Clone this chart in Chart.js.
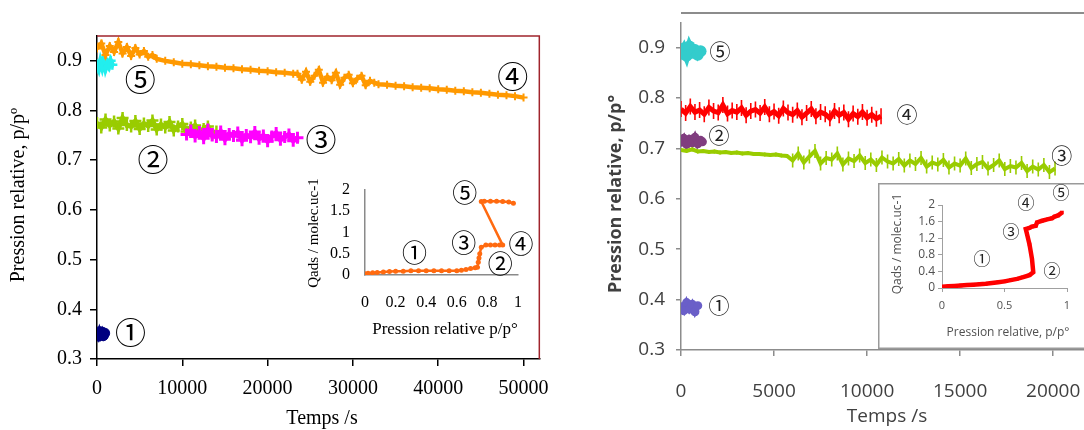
<!DOCTYPE html>
<html>
<head>
<meta charset="utf-8">
<script src="https://cdn.jsdelivr.net/npm/chart.js@4.4.0/dist/chart.umd.min.js"></script>
<style>
  html, body { margin: 0; padding: 0; background: #fff; overflow: hidden; }
  #wrap { position: relative; width: 1084px; height: 430px; overflow: hidden; background: #fff; }
  #wrap canvas { position: absolute; }
  .soft { filter: blur(0.45px); }
</style>
</head>
<body>
<div id="wrap">
  <canvas id="leftMain" width="560" height="430" style="left:0;top:0"></canvas>
  <canvas id="leftInset" width="250" height="180" style="left:290px;top:165px"></canvas>
  <canvas id="rightMain" class="soft" width="560" height="430" style="left:560px;top:0"></canvas>
  <canvas id="rightInset" class="soft" width="230" height="166" style="left:878px;top:183px"></canvas>
</div>
<script>
// ---------- left figure: relative pressure vs time ----------
const tLeft1 = [0, 150, 300, 450, 600, 750, 900];
const pLeft1 = [0.351, 0.346, 0.355, 0.348, 0.354, 0.347, 0.352];

const tLeft5 = [0, 200, 400, 600, 800, 1000, 1200, 1400, 1600, 1800];
const pLeft5 = [0.893, 0.884, 0.899, 0.887, 0.902, 0.885, 0.896, 0.889, 0.900, 0.892];

const tLeft4 = [0, 500, 1000, 1500, 2000, 2500, 3000, 3500, 4000, 4500, 5000, 5500, 6000, 6500, 7000,
  8000, 9000, 10000, 11000, 12000, 13000, 14000, 15000, 16000, 17000, 18000, 19000, 20000, 21000, 22000, 23000,
  23500, 24000, 24500, 25000, 25500, 26000, 26500, 27000, 27500, 28000, 28500, 29000, 29500, 30000, 30500, 31000, 31500, 32000, 32500,
  33000, 34000, 35000, 36000, 37000, 38000, 39000, 40000, 41000, 42000, 43000, 44000, 45000, 46000, 47000, 48000, 49000, 50000];
const pLeft4 = [0.925, 0.935, 0.912, 0.930, 0.918, 0.938, 0.915, 0.928, 0.910, 0.926, 0.913, 0.920, 0.908, 0.912, 0.904,
  0.900, 0.897, 0.894, 0.893, 0.891, 0.889, 0.888, 0.886, 0.885, 0.883, 0.882, 0.880, 0.879, 0.877, 0.876, 0.874,
  0.874, 0.862, 0.878, 0.858, 0.870, 0.882, 0.856, 0.868, 0.861, 0.876, 0.852, 0.866, 0.872, 0.855, 0.864, 0.870, 0.851, 0.860, 0.856,
  0.853, 0.852, 0.850, 0.849, 0.847, 0.846, 0.845, 0.843, 0.842, 0.840, 0.839, 0.837, 0.836, 0.834, 0.832, 0.831, 0.829, 0.826];

const tLeft2 = [0, 500, 1000, 1500, 2000, 2500, 3000, 3500, 4000, 4500, 5000, 5500, 6000, 6500, 7000,
  7500, 8000, 8500, 9000, 9500, 10000, 10500, 11000, 11500, 12000, 12500, 13000, 13500, 14000];
const pLeft2 = [0.775, 0.766, 0.782, 0.770, 0.778, 0.764, 0.785, 0.771, 0.768, 0.779,
  0.763, 0.774, 0.769, 0.780, 0.762, 0.772, 0.766, 0.777, 0.760, 0.768,
  0.773, 0.758, 0.766, 0.770, 0.756, 0.763, 0.768, 0.752, 0.758];

const tLeft3 = [10500, 11000, 11500, 12000, 12500, 13000, 13500, 14000, 14500, 15000, 15500, 16000, 16500, 17000,
  17500, 18000, 18500, 19000, 19500, 20000, 20500, 21000, 21500, 22000, 22500, 23000, 23500];
const pLeft3 = [0.752, 0.760, 0.748, 0.757, 0.744, 0.762, 0.750, 0.747, 0.758, 0.742,
  0.753, 0.749, 0.756, 0.740, 0.751, 0.746, 0.757, 0.743, 0.750, 0.738,
  0.748, 0.755, 0.741, 0.747, 0.752, 0.739, 0.745];

// left inset: adsorbed amount vs relative pressure
const xLeftInset = [0, 0.02, 0.05, 0.08, 0.12, 0.16, 0.2, 0.25, 0.3, 0.35, 0.4, 0.45, 0.5, 0.55, 0.6, 0.63, 0.66, 0.69,
  0.72, 0.735, 0.74, 0.745, 0.75, 0.76, 0.79, 0.82, 0.85, 0.88, 0.9, 0.76, 0.78, 0.82, 0.86, 0.9, 0.94, 0.97];
const qLeftInset = [0.03, 0.04, 0.05, 0.06, 0.07, 0.08, 0.09, 0.09, 0.1, 0.1, 0.1, 0.1, 0.1, 0.1, 0.1, 0.11, 0.13, 0.15,
  0.17, 0.18, 0.3, 0.4, 0.5, 0.65, 0.7, 0.7, 0.7, 0.7, 0.7, 1.72, 1.73, 1.73, 1.73, 1.72, 1.71, 1.68];

// ---------- right figure ----------
const tRight5 = [0, 150, 300, 450, 600, 750, 900, 1050];
const pRight5 = [0.888, 0.898, 0.884, 0.902, 0.890, 0.895, 0.886, 0.893];

const tRight2 = [0, 150, 300, 450, 600, 750, 900, 1050, 1150];
const pRight2 = [0.712, 0.720, 0.708, 0.718, 0.711, 0.722, 0.709, 0.716, 0.713];

const tRight1 = [0, 150, 300, 450, 600, 750, 900];
const pRight1 = [0.386, 0.378, 0.394, 0.381, 0.391, 0.376, 0.388];

const tRight4 = [0, 250, 500, 750, 1000, 1250, 1500, 1750, 2000, 2250, 2500, 2750, 3000, 3250, 3500, 3750, 4000, 4250,
  4500, 4750, 5000, 5250, 5500, 5750, 6000, 6250, 6500, 6750, 7000, 7250, 7500, 7750, 8000, 8250, 8500, 8750,
  9000, 9250, 9500, 9750, 10000, 10250, 10500, 10750];
const pRight4 = [0.778, 0.770, 0.783, 0.772, 0.776, 0.768, 0.781, 0.774, 0.771, 0.786,
  0.769, 0.775, 0.772, 0.780, 0.766, 0.774, 0.777, 0.770, 0.782, 0.768,
  0.773, 0.765, 0.779, 0.771, 0.767, 0.775, 0.762, 0.770, 0.778, 0.764,
  0.772, 0.768, 0.760, 0.774, 0.766, 0.771, 0.758, 0.769, 0.763, 0.772,
  0.761, 0.767, 0.759, 0.764];

const tRight3 = [0, 300, 600, 900, 1200, 1500, 1800, 2100, 2400, 2700, 3000, 3300, 3600, 3900, 4200, 4500, 4800, 5100,
  5400, 5700, 6000, 6300, 6600, 6900, 7200, 7500, 7800, 8100, 8400, 8700, 9000, 9300, 9600, 9900, 10200, 10500,
  10800, 11100, 11400, 11700, 12000, 12300, 12600, 12900, 13200, 13500, 13800, 14100, 14400, 14700, 15000, 15300,
  15600, 15900, 16200, 16500, 16800, 17100, 17400, 17700, 18000, 18300, 18600, 18900, 19200, 19500, 19800, 20100];
const pRight3 = [0.697, 0.695, 0.698, 0.694, 0.695, 0.693, 0.694, 0.692, 0.693, 0.691,
  0.692, 0.690, 0.691, 0.689, 0.689, 0.688, 0.687, 0.688, 0.686, 0.685,
  0.676, 0.690, 0.672, 0.684, 0.695, 0.670, 0.681, 0.678, 0.690, 0.668,
  0.680, 0.675, 0.686, 0.671, 0.678, 0.667, 0.682, 0.674, 0.670, 0.679,
  0.666, 0.676, 0.669, 0.681, 0.664, 0.672, 0.668, 0.677, 0.662, 0.670,
  0.666, 0.680, 0.661, 0.669, 0.673, 0.660, 0.667, 0.676, 0.659, 0.665,
  0.662, 0.671, 0.655, 0.664, 0.658, 0.667, 0.653, 0.660];

// right inset: adsorbed amount vs relative pressure
const xRightInset = [0, 0.05, 0.1, 0.15, 0.2, 0.25, 0.3, 0.35, 0.4, 0.45, 0.5, 0.55, 0.6, 0.65, 0.7, 0.73, 0.72, 0.7,
  0.68, 0.67, 0.7, 0.72, 0.75, 0.76, 0.8, 0.85, 0.88, 0.9, 0.93, 0.96];
const qRightInset = [0.03, 0.04, 0.05, 0.06, 0.07, 0.08, 0.09, 0.1, 0.12, 0.14, 0.16, 0.19, 0.22, 0.26, 0.31, 0.38, 0.7, 1.05,
  1.3, 1.42, 1.45, 1.48, 1.5, 1.58, 1.62, 1.66, 1.68, 1.72, 1.75, 1.82];

// tick values
const leftTimeTicks = [0, 10000, 20000, 30000, 40000, 50000];
const rightTimeTicks = [0, 5000, 10000, 15000, 20000];
const pressureTicks = [0.3, 0.4, 0.5, 0.6, 0.7, 0.8, 0.9];
const leftInsetXTicks = [0, 0.2, 0.4, 0.6, 0.8, 1];
const leftInsetYTicks = [0, 0.5, 1, 1.5, 2];
const rightInsetXTicks = [0, 0.5, 1];
const rightInsetYTicks = [0, 0.4, 0.8, 1.2, 1.6, 2];

// step labels (circled numbers) anchored in data coordinates
const leftTags = [['⑤', 5070, 0.8625], ['④', 48730, 0.8685], ['③', 26270, 0.7415], ['②', 6570, 0.703], ['①', 3920, 0.354]];
const leftInsetTags = [['⑤', 0.652, 1.93], ['③', 0.645, 0.76], ['④', 1.02, 0.74], ['②', 0.884, 0.28], ['①', 0.323, 0.52]];
const rightTags = [['⑤', 2095, 0.894], ['④', 12140, 0.768], ['②', 2040, 0.726], ['③', 20460, 0.687], ['①', 2040, 0.389]];
const rightInsetTags = [['④', 0.672, 2.05], ['⑤', 0.952, 2.31], ['③', 0.552, 1.37], ['①', 0.32, 0.70], ['②', 0.88, 0.41]];

// ---------- helpers ----------
const SERIF = '"Liberation Serif", "Times New Roman", serif';
const SANS = '"Open Sans", "Noto Sans", sans-serif';
const CIRC = '"Noto Sans CJK JP", "DejaVu Sans", sans-serif';

function pts(xs, ys) { return xs.map((v, i) => ({ x: v, y: ys[i] })); }

function axis(o) {
  return {
    type: 'linear', min: o.min, max: o.max,
    afterBuildTicks: s => { s.ticks = o.ticks.map(v => ({ value: v })); },
    afterFit: s => { if (o.horizontal) s.height = o.size; else s.width = o.size; },
    grid: { display: true, drawOnChartArea: false, drawTicks: o.tickLen > 0, tickLength: o.tickLen,
            color: o.lineColor, lineWidth: o.lineWidth },
    border: { display: true, color: o.lineColor, width: o.lineWidth },
    ticks: { color: o.color, font: o.font, padding: o.pad, autoSkip: false, maxRotation: 0, minRotation: 0,
             callback: v => o.fmt(v) },
    title: { display: false }
  };
}

function series(xs, ys, color, o) {
  return Object.assign({
    data: pts(xs, ys), showLine: true, borderColor: color, backgroundColor: color,
    pointBorderColor: color, pointBackgroundColor: color, tension: 0
  }, o);
}

// vertical scatter bars around each reading of a noisy record
function noisy(width, bar, calmBefore, calmBar) {
  return {
    borderWidth: width, pointStyle: 'line', pointRotation: 90, pointBorderWidth: 1.6,
    pointRadius: c => (calmBefore && c.raw && c.raw.x < calmBefore ? calmBar : bar)
  };
}

function drawText(ctx, text, x, y, font, color, rot) {
  ctx.save();
  ctx.translate(x, y);
  if (rot) ctx.rotate(rot);
  ctx.font = font; ctx.fillStyle = color;
  ctx.textAlign = 'center'; ctx.textBaseline = 'middle';
  ctx.fillText(text, 0, 0);
  ctx.restore();
}

function drawTags(chart, tags, size, color) {
  const { ctx, scales } = chart;
  tags.forEach(([s, vx, vy]) =>
    drawText(ctx, s, scales.x.getPixelForValue(vx), scales.y.getPixelForValue(vy), size + 'px ' + CIRC, color, 0));
}

const base = { responsive: false, animation: false, devicePixelRatio: 1,
  plugins: { legend: { display: false }, tooltip: { enabled: false } } };

// ---------- left main chart ----------
new Chart(document.getElementById('leftMain'), {
  type: 'scatter',
  data: { datasets: [
    series(tLeft4, pLeft4, '#FF9900', { borderWidth: 4.5, pointStyle: 'cross', pointRadius: 4, pointBorderWidth: 2 }),
    series(tLeft5, pLeft5, '#22EEEE', { borderWidth: 5, pointStyle: 'cross', pointRadius: 5, pointBorderWidth: 2.5 }),
    series(tLeft3, pLeft3, '#FF00FF', { borderWidth: 5, pointStyle: 'cross', pointRadius: 6, pointBorderWidth: 3 }),
    series(tLeft2, pLeft2, '#99CC00', { borderWidth: 5, pointStyle: 'cross', pointRadius: 6, pointBorderWidth: 2.5 }),
    series(tLeft1, pLeft1, '#000080', { borderWidth: 5, pointStyle: 'circle', pointRadius: 5, pointBorderWidth: 1 })
  ] },
  options: Object.assign({}, base, {
    layout: { padding: { left: 0, top: 36, right: 13, bottom: 0 } },
    scales: {
      x: axis({ min: 0, max: 51850, ticks: leftTimeTicks, horizontal: true, size: 71, tickLen: 7,
        lineColor: '#000', lineWidth: 1.5, color: '#000', font: { family: SERIF, size: 20 }, pad: 11, fmt: v => String(v) }),
      y: axis({ min: 0.3, max: 0.95, ticks: pressureTicks, size: 97, tickLen: 7,
        lineColor: '#000', lineWidth: 1.5, color: '#000', font: { family: SERIF, size: 20 }, pad: 8, fmt: v => v.toFixed(1) })
    }
  }),
  plugins: [{
    id: 'leftDeco',
    afterDraw(chart) {
      const { ctx, chartArea: a } = chart;
      ctx.save();
      ctx.strokeStyle = '#A0242C'; ctx.lineWidth = 1.5;
      ctx.beginPath();
      ctx.moveTo(a.left, a.top); ctx.lineTo(a.right, a.top); ctx.lineTo(a.right, a.bottom);
      ctx.stroke();
      ctx.restore();
      drawText(ctx, 'Temps /s', 322, 419, '20px ' + SERIF, '#000', 0);
      drawText(ctx, 'Pression relative, p/pº', 19, 195, '20px ' + SERIF, '#000', -Math.PI / 2);
      drawTags(chart, leftTags, 31, '#000');
    }
  }]
});

// ---------- left inset ----------
new Chart(document.getElementById('leftInset'), {
  type: 'scatter',
  data: { datasets: [
    series(xLeftInset, qLeftInset, '#FF6A10', { borderWidth: 2.5, pointStyle: 'circle', pointRadius: 2.5, pointBorderWidth: 0 })
  ] },
  options: Object.assign({}, base, {
    layout: { padding: { left: 0, top: 17, right: 20, bottom: 0 } },
    scales: {
      x: axis({ min: 0, max: 1, ticks: leftInsetXTicks, horizontal: true, size: 70, tickLen: 0,
        lineColor: '#8a8a8a', lineWidth: 1.5, color: '#000', font: { family: SERIF, size: 16 }, pad: 18, fmt: v => String(v) }),
      y: axis({ min: 0, max: 2, ticks: leftInsetYTicks, size: 75, tickLen: 0,
        lineColor: '#8a8a8a', lineWidth: 1.5, color: '#000', font: { family: SERIF, size: 16 }, pad: 15, fmt: v => String(v) })
    }
  }),
  plugins: [{
    id: 'leftInsetDeco',
    afterDraw(chart) {
      const { ctx } = chart;
      drawText(ctx, 'Pression relative p/p°', 155, 165, '17px ' + SERIF, '#000', 0);
      drawText(ctx, 'Qads / molec.uc-1', 24, 68, '15px ' + SERIF, '#000', -Math.PI / 2);
      drawTags(chart, leftInsetTags, 25, '#000');
    }
  }]
});

// ---------- right main chart ----------
new Chart(document.getElementById('rightMain'), {
  type: 'scatter',
  data: { datasets: [
    series(tRight3, pRight3, '#99CC00', noisy(4, 7, 6000, 2)),
    series(tRight4, pRight4, '#FF0000', noisy(5, 8)),
    series(tRight5, pRight5, '#33CCCC', { borderWidth: 8, pointStyle: 'circle', pointRadius: 6, pointBorderWidth: 0 }),
    series(tRight2, pRight2, '#803D7F', { borderWidth: 6, pointStyle: 'circle', pointRadius: 4.5, pointBorderWidth: 0 }),
    series(tRight1, pRight1, '#6A5FC8', { borderWidth: 5, pointStyle: 'circle', pointRadius: 4.5, pointBorderWidth: 0 })
  ] },
  options: Object.assign({}, base, {
    layout: { padding: { left: 0, top: 14, right: 11, bottom: 0 } },
    scales: {
      x: axis({ min: 0, max: 23000, ticks: rightTimeTicks, horizontal: true, size: 80, tickLen: 6,
        lineColor: '#8c8c8c', lineWidth: 1.5, color: '#404040', font: { family: SANS, size: 19 }, pad: 24, fmt: v => String(v) }),
      y: axis({ min: 0.3, max: 0.95, ticks: pressureTicks, size: 121, tickLen: 5,
        lineColor: '#8c8c8c', lineWidth: 1.5, color: '#404040', font: { family: SANS, size: 19 }, pad: 11, fmt: v => v.toFixed(1) })
    }
  }),
  plugins: [{
    id: 'rightDeco',
    afterDraw(chart) {
      const { ctx, chartArea: a } = chart;
      ctx.save();
      ctx.strokeStyle = '#8c8c8c'; ctx.lineWidth = 2;
      ctx.beginPath(); ctx.moveTo(a.left, 13); ctx.lineTo(chart.width, 13); ctx.stroke();
      ctx.restore();
      drawText(ctx, 'Temps /s', 327, 417, '19px ' + SANS, '#404040', 0);
      drawText(ctx, 'Pression relative, p/p°', 56, 194, 'bold 18px ' + SANS, '#404040', -Math.PI / 2);
      drawTags(chart, rightTags, 21, '#222');
    }
  }]
});

// ---------- right inset ----------
new Chart(document.getElementById('rightInset'), {
  type: 'scatter',
  data: { datasets: [
    series(xRightInset, qRightInset, '#FF0000', { borderWidth: 4.5, pointStyle: 'rect', pointRadius: 2.5, pointBorderWidth: 0 })
  ] },
  options: Object.assign({}, base, {
    layout: { padding: { left: 0, top: 22, right: 41, bottom: 0 } },
    scales: {
      x: axis({ min: 0, max: 1, ticks: rightInsetXTicks, horizontal: true, size: 61, tickLen: 4,
        lineColor: '#a0a0a0', lineWidth: 1, color: '#505050', font: { family: SANS, size: 11 }, pad: 7, fmt: v => String(v) }),
      y: axis({ min: 0, max: 2, ticks: rightInsetYTicks, size: 64, tickLen: 4,
        lineColor: '#a0a0a0', lineWidth: 1, color: '#505050', font: { family: SANS, size: 12 }, pad: 3, fmt: v => String(v) })
    }
  }),
  plugins: [{
    id: 'rightInsetDeco',
    beforeDraw(chart) {
      const { ctx } = chart;
      ctx.save();
      ctx.fillStyle = '#fff'; ctx.fillRect(0, 0, chart.width, chart.height);
      ctx.strokeStyle = '#9a9a9a'; ctx.lineWidth = 1.5;
      ctx.strokeRect(0.75, 0.75, chart.width + 10, chart.height - 1.5);
      ctx.restore();
    },
    afterDraw(chart) {
      const { ctx } = chart;
      drawText(ctx, 'Pression relative, p/p°', 130, 150, '12px ' + SANS, '#505050', 0);
      drawText(ctx, 'Qads / molec.uc-1', 20, 61, '12px ' + SANS, '#505050', -Math.PI / 2);
      drawTags(chart, rightInsetTags, 17, '#222');
    }
  }]
});
</script>
</body>
</html>
